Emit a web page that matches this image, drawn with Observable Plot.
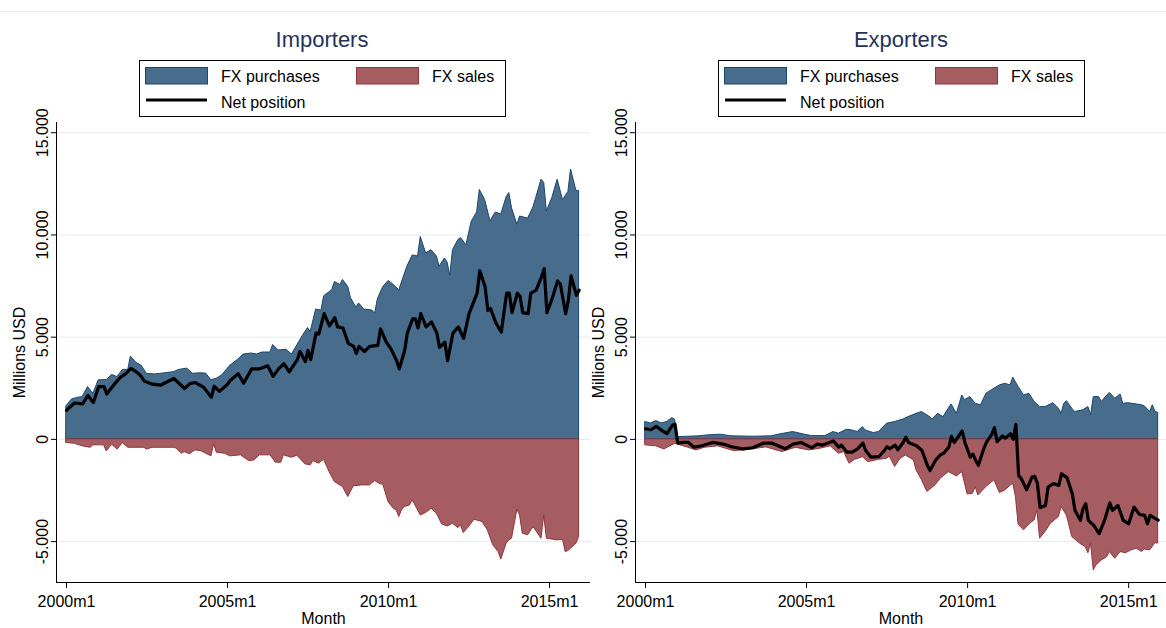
<!DOCTYPE html>
<html><head><meta charset="utf-8">
<script src="https://cdn.jsdelivr.net/npm/d3@7"></script>
<script src="https://cdn.jsdelivr.net/npm/@observablehq/plot@0.6"></script>
<style>
body{margin:0;background:#fff;font-family:"Liberation Sans",Arial,sans-serif;}
#wrap{position:relative;width:1166px;height:628px;overflow:hidden;background:#fff;}
.topline{position:absolute;left:0;top:11px;width:1166px;height:1px;background:#ececec;}
.panel{position:absolute;top:0;}
.panel svg{display:block;}
</style></head>
<body><div id="wrap"><div class="topline"></div></div>
<script>
// ---- data: [month index since 2000m1, value in millions USD] ----
const xTickMonths = [0, 60, 120, 180];
const xTickLabels = ["2000m1", "2005m1", "2010m1", "2015m1"];
const yTicks = [-5000, 0, 5000, 10000, 15000];
const panelTitles = ["Importers", "Exporters"];
const seriesNames = ["FX purchases", "FX sales", "Net position"];

const impBuy = [[0,1620],[2,1950],[4,2030],[6,2070],[8,2560],[10,2230],[12,2890],[15,2900],[17,3150],[19,3050],[21,3400],[23,3400],[24,4050],[26,3750],[28,3600],[30,3200],[33,3180],[36,3220],[40,3290],[42,3400],[45,3460],[47,3210],[50,3230],[52,3220],[54,2890],[56,2970],[58,3130],[61,3600],[64,3900],[66,4150],[69,4200],[71,4150],[73,4250],[76,4250],[77,4620],[79,4350],[82,4380],[84,4150],[86,4600],[88,5050],[90,5450],[91,5250],[93,6350],[95,6300],[96,7000],[99,7300],[100,7700],[102,7550],[103,7800],[105,7450],[106,6900],[108,6450],[109,6650],[111,6350],[114,6300],[115,6150],[116,6850],[118,7450],[120,7750],[122,7550],[124,7300],[127,8450],[129,9000],[131,8950],[132,9900],[134,9100],[136,9250],[138,8950],[139,8450],[141,8850],[142,8650],[143,8000],[144,9250],[146,9750],[147,9850],[149,9500],[151,10650],[153,11100],[154,12200],[156,11700],[158,10650],[159,10900],[160,11100],[162,11000],[164,11850],[165,12050],[166,11300],[168,10500],[169,10900],[172,10800],[174,11350],[175,11800],[177,12700],[178,12550],[179,11150],[181,11800],[183,12700],[185,11700],[187,12100],[188,13200],[190,12150],[191,12150]];

const impSell = [[0,-180],[3,-210],[6,-340],[9,-410],[10,-290],[14,-290],[15,-590],[17,-260],[19,-500],[21,-180],[23,-410],[29,-410],[30,-500],[32,-410],[40,-410],[41,-450],[43,-700],[44,-620],[46,-730],[48,-540],[50,-570],[54,-830],[55,-240],[56,-650],[59,-700],[61,-830],[65,-780],[68,-1060],[70,-1030],[72,-780],[76,-780],[78,-1140],[80,-1140],[81,-780],[84,-900],[86,-800],[89,-1220],[91,-1270],[92,-1060],[94,-1190],[96,-1000],[98,-1600],[100,-2090],[103,-2330],[105,-2820],[107,-2300],[110,-2250],[113,-2250],[115,-2040],[117,-2200],[118,-2200],[120,-3070],[122,-3400],[123,-3470],[124,-3800],[125,-3470],[126,-3310],[128,-3230],[129,-2980],[132,-3720],[134,-3600],[136,-3390],[138,-3640],[140,-4160],[142,-4260],[144,-4130],[146,-4340],[147,-4210],[148,-4580],[150,-4290],[152,-3930],[155,-4040],[157,-4450],[159,-5180],[161,-5510],[162,-5880],[164,-5100],[165,-4940],[166,-4860],[168,-3440],[169,-3720],[170,-4610],[172,-4690],[174,-4290],[177,-4860],[178,-3720],[179,-4860],[181,-4900],[183,-4940],[185,-4910],[186,-5510],[187,-5460],[189,-5230],[190,-5100],[191,-4780]];

const impNet = [[0,1420],[1,1550],[3,1780],[6,1740],[8,2150],[10,1800],[12,2580],[14,2580],[15,2220],[18,2730],[20,3030],[22,3200],[24,3470],[26,3300],[27,3200],[28,3050],[29,2850],[32,2700],[35,2650],[37,2780],[40,2980],[44,2490],[46,2730],[48,2780],[51,2560],[54,2060],[55,2600],[57,2350],[60,2700],[61,2880],[64,3210],[66,2750],[69,3450],[72,3450],[75,3600],[77,3080],[79,3450],[81,3700],[83,3300],[86,3900],[87,4300],[89,3800],[90,4350],[91,3900],[93,5200],[94,5150],[96,6150],[98,5550],[100,5950],[101,5500],[103,5450],[105,4700],[107,4550],[108,4200],[109,4550],[111,4300],[113,4550],[116,4600],[117,5400],[119,4800],[121,4400],[123,3850],[124,3450],[126,4350],[127,5200],[129,5900],[130,5900],[131,5450],[132,6150],[134,5500],[136,5750],[138,5200],[139,4500],[141,4750],[142,3850],[144,5200],[146,5500],[148,4950],[150,6150],[153,7150],[154,8250],[156,7450],[157,6300],[158,6400],[160,5700],[162,5250],[164,7150],[165,7150],[166,6200],[168,7150],[169,7000],[170,6200],[172,6150],[173,7150],[175,7300],[177,7950],[178,8350],[179,6200],[181,6900],[183,7750],[184,7600],[186,6150],[187,6800],[188,8000],[190,7050],[191,7300]];

const expBuy = [[0,850],[2,780],[4,900],[6,780],[8,850],[10,1040],[11,970],[12,110],[16,130],[20,150],[23,195],[28,230],[32,150],[40,130],[47,150],[50,240],[55,360],[59,240],[62,160],[67,160],[70,360],[72,280],[75,470],[77,440],[79,360],[81,600],[82,440],[85,310],[87,360],[90,770],[93,850],[96,970],[98,1090],[101,1250],[103,1340],[106,1090],[107,970],[109,1250],[111,1090],[114,1710],[116,1250],[118,2150],[119,1920],[121,2070],[123,1740],[125,1670],[127,2230],[129,2400],[132,2640],[134,2720],[136,2640],[137,3020],[139,2560],[141,2150],[143,2230],[145,1830],[147,1580],[149,1580],[152,1770],[154,1500],[155,1250],[156,1740],[157,1870],[159,1500],[160,1340],[163,1420],[165,1580],[166,1170],[167,2070],[169,2070],[170,1830],[172,2150],[173,2270],[175,1990],[177,2200],[178,1740],[180,1770],[183,1710],[185,1670],[186,1620],[188,1340],[189,1670],[190,1340],[191,1300]];

const expSell = [[0,-290],[4,-340],[7,-490],[10,-290],[11,-210],[16,-410],[19,-540],[22,-410],[27,-340],[33,-570],[37,-540],[45,-390],[51,-620],[56,-410],[61,-540],[65,-460],[69,-340],[72,-700],[74,-620],[76,-1190],[78,-1000],[81,-870],[83,-1110],[87,-1000],[90,-950],[91,-840],[93,-1350],[95,-950],[97,-790],[100,-1030],[101,-1520],[103,-2000],[105,-2570],[108,-2250],[110,-1920],[113,-1600],[116,-1810],[118,-1600],[120,-2690],[122,-2660],[123,-2330],[124,-2740],[127,-2330],[130,-2000],[132,-2620],[134,-2500],[137,-2160],[138,-2820],[139,-4160],[141,-4450],[143,-4160],[145,-3960],[146,-3470],[147,-4860],[149,-4530],[151,-4130],[154,-3800],[155,-3310],[157,-3720],[159,-4780],[162,-5110],[164,-5270],[165,-5570],[166,-5110],[167,-6410],[168,-6160],[170,-5920],[172,-5760],[173,-5510],[175,-5840],[177,-5510],[179,-5570],[181,-5430],[183,-5350],[185,-5510],[186,-5390],[188,-5430],[190,-5070],[191,-5100]];

const expNet = [[0,520],[2,470],[4,640],[6,440],[8,280],[10,690],[11,740],[12,-180],[14,-150],[16,-150],[18,-380],[21,-310],[25,-150],[29,-230],[32,-360],[36,-460],[40,-410],[44,-180],[47,-180],[52,-460],[55,-230],[58,-150],[60,-280],[62,-410],[64,-230],[66,-280],[68,-180],[70,-80],[72,-380],[73,-280],[75,-620],[77,-620],[79,-460],[81,-180],[82,-540],[84,-870],[87,-840],[89,-540],[90,-360],[91,-460],[93,-280],[94,-510],[96,-150],[97,110],[98,-150],[101,-310],[103,-540],[105,-1270],[106,-1520],[108,-1030],[110,-740],[111,-690],[113,-380],[114,150],[115,-150],[118,410],[119,-150],[121,-870],[122,-720],[123,-1030],[124,-1270],[126,-460],[127,-150],[129,250],[130,570],[131,-110],[133,170],[134,60],[136,280],[137,0],[138,730],[139,-1760],[140,-1920],[142,-2460],[144,-1840],[145,-1810],[146,-2160],[147,-3340],[149,-3230],[150,-2330],[152,-2160],[154,-2250],[155,-1680],[157,-1870],[159,-2660],[160,-3470],[162,-3960],[163,-3390],[164,-3150],[165,-3960],[167,-4210],[169,-4610],[171,-3960],[173,-3110],[174,-3470],[176,-3230],[178,-3960],[180,-4130],[182,-3310],[184,-3670],[186,-3720],[187,-4130],[188,-3720],[190,-3880],[191,-3950]];

// ---- styling ----
const BLUE_FILL = "#486c8c", BLUE_LINE = "#1a476f";
const RED_FILL = "#a65d62", RED_LINE = "#90353b";
const FONT = '"Liberation Sans", Arial, sans-serif';
const numFmt = d3.formatLocale({decimal: ",", thousands: ".", grouping: [3], currency: ["", ""], minus: "-"}).format(",");
const xLabelOf = new Map(xTickMonths.map((m, i) => [m, xTickLabels[i]]));
const toRows = arr => arr.map(([m, v]) => ({m, v}));

function header(title, width) {
  const ns = "http://www.w3.org/2000/svg";
  const svg = d3.create("svg").attr("xmlns", ns).attr("width", width).attr("height", 120)
    .style("font-family", FONT).style("display", "block");
  svg.append("text").attr("x", 322).attr("y", 47).attr("text-anchor", "middle")
    .attr("font-size", 22).attr("fill", "#23335c").text(title);
  const g = svg.append("g");
  g.append("rect").attr("x", 139.5).attr("y", 60.5).attr("width", 366).attr("height", 56)
    .attr("fill", "#fff").attr("stroke", "#000").attr("stroke-width", 1);
  g.append("rect").attr("x", 145.5).attr("y", 67.5).attr("width", 62).attr("height", 16.5)
    .attr("fill", BLUE_FILL).attr("stroke", BLUE_LINE);
  g.append("rect").attr("x", 356.5).attr("y", 67.5).attr("width", 62).attr("height", 16.5)
    .attr("fill", RED_FILL).attr("stroke", RED_LINE);
  g.append("line").attr("x1", 146).attr("x2", 207).attr("y1", 100).attr("y2", 100)
    .attr("stroke", "#000").attr("stroke-width", 3);
  const t = [[221, 82, seriesNames[0]], [432, 82, seriesNames[1]], [221, 107.5, seriesNames[2]]];
  for (const [x, y, s] of t) g.append("text").attr("x", x).attr("y", y).attr("font-size", 16).attr("fill", "#000").text(s);
  return svg.node();
}

function chart(buy, sell, net, width, xMax) {
  const xMin = -3.73, yMin = -7000, yMax = 15500;
  return Plot.plot({
    width, height: 508,
    marginLeft: 56, marginRight: 0, marginTop: 2, marginBottom: 46,
    x: {domain: [xMin, xMax]},
    y: {domain: [yMin, yMax]},
    style: {fontFamily: FONT, fontSize: "16px", color: "#000", background: "transparent", overflow: "visible"},
    marks: [
      Plot.gridY(yTicks, {stroke: "#e3ebee", strokeOpacity: 1, strokeWidth: 1}),
      Plot.areaY(toRows(buy), {x: "m", y: "v", fill: BLUE_FILL, stroke: BLUE_LINE, strokeWidth: 1}),
      Plot.areaY(toRows(sell), {x: "m", y: "v", fill: RED_FILL, stroke: RED_LINE, strokeWidth: 1}),
      Plot.lineY(toRows(net), {x: "m", y: "v", stroke: "#000", strokeWidth: 3.2, strokeLinejoin: "round"}),
      Plot.ruleX([xMin], {stroke: "#000", strokeWidth: 1}),
      Plot.ruleY([yMin], {stroke: "#000", strokeWidth: 1}),
      Plot.axisY(yTicks, {anchor: "left", tickFormat: numFmt, tickRotate: -90, tickSize: 5, tickPadding: 4,
        label: "Millions USD", labelAnchor: "center", labelOffset: 43, labelArrow: "none"}),
      Plot.axisX(xTickMonths, {anchor: "bottom", tickFormat: d => xLabelOf.get(d), tickSize: 6, tickPadding: 7,
        label: "Month", labelAnchor: "center", labelOffset: 41, labelArrow: "none"})
    ]
  });
}

const wrap = document.getElementById("wrap");
const panels = [
  {left: 0, width: 590, xMax: 195.25, title: panelTitles[0], buy: impBuy, sell: impSell, net: impNet},
  {left: 579, width: 587, xMax: 194.1, title: panelTitles[1], buy: expBuy, sell: expSell, net: expNet}
];
for (const p of panels) {
  const div = document.createElement("div");
  div.className = "panel";
  div.style.left = p.left + "px";
  div.style.width = p.width + "px";
  div.appendChild(header(p.title, p.width));
  div.appendChild(chart(p.buy, p.sell, p.net, p.width, p.xMax));
  wrap.appendChild(div);
}
</script></body></html>
